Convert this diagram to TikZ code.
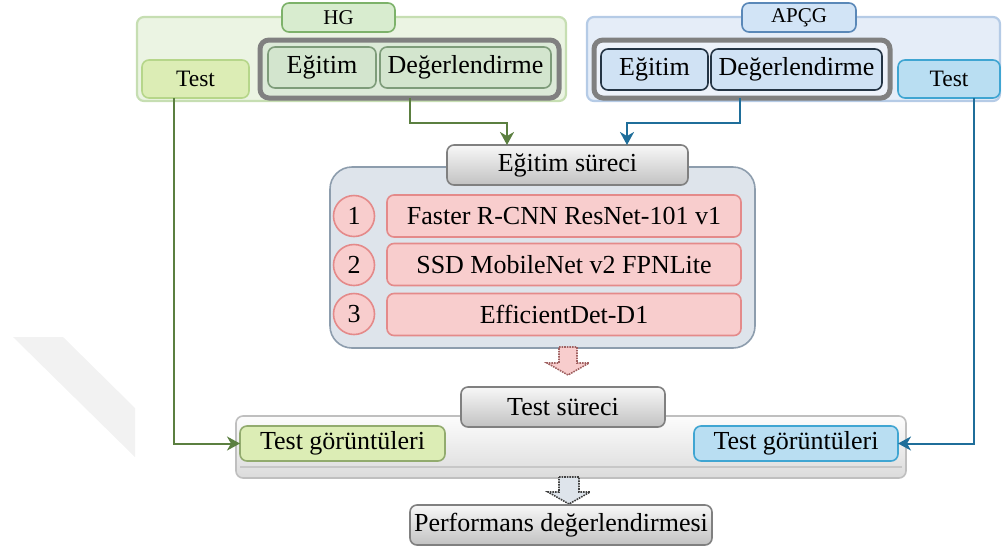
\documentclass[tikz,border=0pt]{standalone}
\usepackage{fontspec}
\setmainfont{Liberation Serif}
\usetikzlibrary{arrows.meta,calc}

\definecolor{hgOut}{HTML}{EBF4E3}
\definecolor{hgOutL}{HTML}{C6DEB2}
\definecolor{hgLbl}{HTML}{D8ECCF}
\definecolor{hgLblL}{HTML}{7DB26A}
\definecolor{hgTest}{HTML}{DCEDB5}
\definecolor{hgTestL}{HTML}{B6D68A}
\definecolor{hgIn}{HTML}{D3E5CE}
\definecolor{hgInL}{HTML}{7E9C7A}
\definecolor{frameC}{HTML}{808080}
\definecolor{apOut}{HTML}{E5EDF8}
\definecolor{apOutL}{HTML}{B5CBE6}
\definecolor{apLbl}{HTML}{D2E4F6}
\definecolor{apLblL}{HTML}{5A88B8}
\definecolor{apIn}{HTML}{D0E2F4}
\definecolor{apInL}{HTML}{243444}
\definecolor{apTest}{HTML}{B9DEF2}
\definecolor{apTestL}{HTML}{3FA5D2}
\definecolor{gArrow}{HTML}{5B7F40}
\definecolor{bArrow}{HTML}{1F6E9A}
\definecolor{contF}{HTML}{DEE4EB}
\definecolor{contL}{HTML}{8D9DAD}
\definecolor{pinkF}{HTML}{F8CDCD}
\definecolor{pinkL}{HTML}{E48A8A}
\definecolor{greyL}{HTML}{808080}

\tikzset{
  sz/.style 2 args={minimum width=#1pt, minimum height=#2pt, inner sep=0pt, outer sep=0pt},
  rbox/.style={rounded corners=7pt, line width=1.6pt},
  big/.style={font=\fontsize{26}{31}\selectfont},
  mid/.style={font=\fontsize{23.5}{28}\selectfont},
  sml/.style={font=\fontsize{21}{25}\selectfont},
  greybox/.style={rbox, draw=greyL, top color=white!97!black, bottom color=white!76!black, big},
  tip/.style={-{Stealth[length=13pt,width=14pt,inset=4pt]}},
  gline/.style={draw=gArrow, line width=2pt, tip},
  bline/.style={draw=bArrow, line width=2pt, tip},
  modelbox/.style={rbox, fill=pinkF, draw=pinkL, big},
  numcirc/.style={circle, fill=pinkF, draw=pinkL, line width=1.6pt, minimum size=41pt, inner sep=0pt, big},
}

\begin{document}
\begin{tikzpicture}[x=1pt,y=-1pt]
\useasboundingbox (0,0) rectangle (1003,547);

% faint mark at the left edge
\fill[black!5] (13,337) -- (63,337) -- (135,408) -- (135,457) -- cycle;

% ---------- HG group ----------
\node[rbox, sz={429}{84}, fill=hgOut, draw=hgOutL, line width=2.2pt] (hg) at (351.5,59) {};
\node[rbox, sz={113}{29}, fill=hgLbl, draw=hgLblL, sml] (hgl) at (338.5,17.5) {HG};
\node[rbox, sz={107}{38}, fill=hgTest, draw=hgTestL, mid] (testG) at (195.5,79) {Test};
\node[rbox, rounded corners=9pt, sz={299}{58}, fill=hgIn!80!white, draw=frameC, line width=5pt] (frameG) at (409.5,69) {};
\node[rbox, sz={108}{41}, fill=hgIn, draw=hgInL, big] (egtG) at (322,67.5) {Eğitim};
\node[rbox, sz={171}{41}, fill=hgIn, draw=hgInL, big] (degG) at (465.5,67.5) {Değerlendirme};

% ---------- APÇG group ----------
\node[rbox, sz={413}{84}, fill=apOut, draw=apOutL, line width=2.2pt] (ap) at (793.5,59) {};
\node[rbox, sz={114}{29}, fill=apLbl, draw=apLblL, sml] (apl) at (799,17.5) {APÇG};
\node[rbox, rounded corners=9pt, sz={296}{58}, fill=apOut!70!white, draw=frameC, line width=5pt] (frameB) at (742,69) {};
\node[rbox, sz={107}{41}, fill=apIn, draw=apInL, big] (egtB) at (654.5,69.5) {Eğitim};
\node[rbox, sz={171}{41}, fill=apIn, draw=apInL, big] (degB) at (796.5,69.5) {Değerlendirme};
\node[rbox, sz={102}{38}, fill=apTest, draw=apTestL, mid] (testB) at (949,79) {Test};

% ---------- training ----------
\node[rbox, rounded corners=22pt, sz={425}{181}, fill=contF, draw=contL] (cont) at (542.5,257.5) {};
\node[greybox, sz={241}{40}] (egs) at (567.5,165) {Eğitim süreci};

\node[numcirc] (n1) at (354,216) {1};
\node[numcirc] (n2) at (354,265) {2};
\node[numcirc] (n3) at (354,314) {3};
\node[modelbox, sz={354}{42}] (m1) at (564,216) {Faster R-CNN ResNet-101 v1};
\node[modelbox, sz={354}{42}] (m2) at (564,264.5) {SSD MobileNet v2 FPNLite};
\node[modelbox, sz={354}{42}] (m3) at (564,314.5) {EfficientDet-D1};

% dotted block arrow below the training block
\draw[fill=pinkF, draw=pinkL!70!black, line width=1.6pt, densely dotted, shift={(568,347)}]
  (-9,0) -- (9,0) -- (9,16) -- (21,16) -- (0,28) -- (-21,16) -- (-9,16) -- cycle;

% ---------- testing ----------
\node[rbox, sz={670}{62}, top color=white!99!black, bottom color=white!86!black, draw=white!75!black] (tcont) at (571,447) {};
\draw[white!78!black, line width=1.2pt] ([xshift=4pt,yshift=11pt]tcont.south west) -- ([xshift=-4pt,yshift=11pt]tcont.south east);
\node[greybox, sz={204}{40}] (ts) at (563,407) {Test süreci};
\node[rbox, sz={205}{35}, fill=hgTest, draw=hgTestL!80!black, big] (tgL) at (342.5,443.5) {Test görüntüleri};
\node[rbox, sz={204}{35}, fill=apTest, draw=apTestL, big] (tgR) at (796,443.5) {Test görüntüleri};

% dotted block arrow to the result
\draw[fill=contF, draw=black!75, line width=1.6pt, densely dotted, shift={(569,477)}]
  (-10,0) -- (10,0) -- (10,15) -- (21,15) -- (0,27) -- (-21,15) -- (-10,15) -- cycle;

\node[greybox, sz={302}{40}] (perf) at (561,525) {Performans değerlendirmesi};

% ---------- connectors ----------
\draw[gline] (frameG.south) -- ++(0,25) -| ([xshift=-60.5pt]egs.north);
\draw[bline] ([xshift=-2pt]frameB.south) -- ++(0,25) -| ([xshift=59.5pt]egs.north);
\draw[gline] ([xshift=-21.5pt]testG.south) |- (tgL.west);
\draw[bline] ([xshift=25pt]testB.south) |- (tgR.east);
\end{tikzpicture}
\end{document}
